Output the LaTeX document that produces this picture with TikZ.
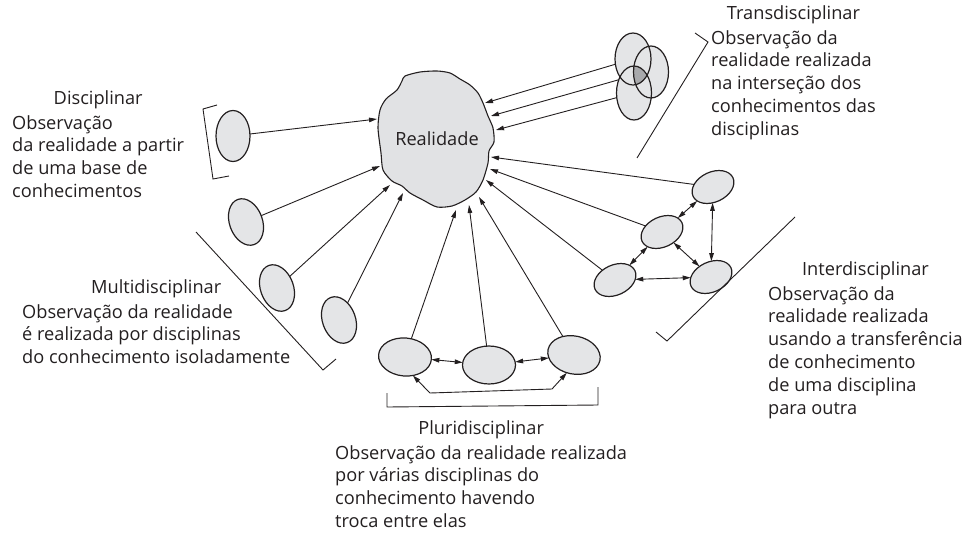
\documentclass[tikz,border=0pt]{standalone}
\usepackage{fontspec}
\setmainfont{Open Sans}
\usepackage{tikz}
\usetikzlibrary{shapes.geometric, arrows.meta}

\definecolor{ovalgray}{RGB}{228,229,231}
\definecolor{blobgray}{RGB}{225,226,228}
\definecolor{overlapgray}{RGB}{168,169,172}
\definecolor{ink}{RGB}{35,31,32}

\tikzset{
  oval/.style={ellipse, draw=ink, line width=1.2pt, fill=ovalgray, inner sep=0pt, outer sep=0pt},
  link/.style={draw=ink, line width=0.9pt},
  bracket/.style={draw=ink, line width=0.9pt},
  blurb/.style={align=left, inner sep=0pt, anchor=north west, text=ink, font=\fontsize{18.2}{22.8}\selectfont},
  heading/.style={inner sep=0pt, anchor=base, text=ink, font=\fontsize{18.2}{22.8}\selectfont},
}

\begin{document}
\begin{tikzpicture}[x=1pt, y=-1pt, >={Triangle[length=8pt,width=4.6pt]}]
    \useasboundingbox (0,0) rectangle (970,544);

    % Draw the reality blob
    \draw[ink, line width=1.1pt, fill=blobgray] plot[smooth cycle, tension=0.45] coordinates {
      (405,76) (420,72) (437,71) (450,73) (460,79) (470,85) (478,93) (483,103)
      (488,116) (493,128) (494,142) (489,151) (488,163) (483,180) (476,192)
      (465,200) (452,206) (437,207) (423,200) (410,193) (402,186) (392,181)
      (383,170) (381,153) (378,128) (380,110) (386,99) (397,90) (402,81)};
    \node[text=ink, font=\fontsize{18.2}{20}\selectfont] (real) at (437,139) {Realidade};

    % Where the arrows meet the blob
    \coordinate (rd) at (377,119);
    \coordinate (rm1) at (380,166);
    \coordinate (rm2) at (390,185);
    \coordinate (rm3) at (403,193);
    \coordinate (rp1) at (456,210);
    \coordinate (rp2) at (469,205);
    \coordinate (rp3) at (479,197);
    \coordinate (ri1) at (491,157);
    \coordinate (ri2) at (490,169);
    \coordinate (ri3) at (486,180);
    \coordinate (rt1) at (485,103);
    \coordinate (rt2) at (491,116);
    \coordinate (rt3) at (496,130);

    % Disciplinar
    \node[oval, minimum width=34pt, minimum height=51pt] (d1) at (233,136) {};
    \draw[link,->] (d1) -- (rd);
    \draw[bracket] (217,105) -- (203,109) -- (213,179) -- (229,176);
    \node[blurb] (dbody) at (12,115) {Observação\\da realidade a partir\\de uma base de\\conhecimentos};
    \node[heading] (dhead) at ([yshift=10.3pt]dbody.north) {Disciplinar};

    % Multidisciplinar
    \node[oval, minimum width=33pt, minimum height=48pt, rotate=20] (m1) at (246,222) {};
    \node[oval, minimum width=33pt, minimum height=48pt, rotate=20] (m2) at (277,288) {};
    \node[oval, minimum width=33pt, minimum height=48pt, rotate=20] (m3) at (339,320) {};
    \draw[link,->] (m1) -- (rm1);
    \draw[link,->] (m2) -- (rm2);
    \draw[link,->] (m3) -- (rm3);
    \draw[bracket] (196,232) -- (323,370) -- (336,359);
    \node[blurb] (mbody) at (22,304) {Observação da realidade\\é realizada por disciplinas\\do conhecimento isoladamente};
    \node[heading] (mhead) at ([yshift=10.3pt]mbody.north) {Multidisciplinar};

    % Pluridisciplinar
    \node[oval, minimum width=53pt, minimum height=38pt, rotate=-5] (p1) at (405,357) {};
    \node[oval, minimum width=53pt, minimum height=38pt] (p2) at (489,365) {};
    \node[oval, minimum width=53pt, minimum height=38pt, rotate=-12] (p3) at (574,355) {};
    \draw[link,->] (p1) -- (rp1);
    \draw[link,->] (p2) -- (rp2);
    \draw[link,->] (p3) -- (rp3);
    \draw[link,<->] (p1) -- (p2);
    \draw[link,<->] (p2) -- (p3);
    \coordinate (pb1) at (430,393);
    \coordinate (pb2) at (552,389);
    \draw[link,<->] (p1.-62) -- (pb1) -- (pb2) -- (p3.-100);
    \draw[bracket] (387,393) -- (387,407) -- (598,405) -- (598,387);
    \node[blurb] (pbody) at (335,445) {Observação da realidade realizada\\por várias disciplinas do\\conhecimento havendo\\troca entre elas};
    \node[heading] (phead) at ([yshift=10.3pt]pbody.north) {Pluridisciplinar};

    % Interdisciplinar
    \node[oval, minimum width=44pt, minimum height=30pt, rotate=25] (i1) at (713,187) {};
    \node[oval, minimum width=44pt, minimum height=30pt, rotate=25] (i2) at (662,232) {};
    \node[oval, minimum width=44pt, minimum height=30pt, rotate=25] (i3) at (615,280) {};
    \node[oval, minimum width=44pt, minimum height=30pt, rotate=25] (i4) at (711,277) {};
    \draw[link,->] (i1) -- (ri1);
    \draw[link,->] (i2) -- (ri2);
    \draw[link,->] (i3) -- (ri3);
    \draw[link,<->] (i2) -- (i1);
    \draw[link,<->] (i2) -- (i3);
    \draw[link,<->] (i2) -- (i4);
    \draw[link,<->] (i3) -- (i4);
    \draw[link,<->] (i1) -- (i4);
    \draw[bracket] (795,217) -- (667,341) -- (656,332);
    \node[blurb] (ibody) at (768,286) {Observação da\\realidade realizada\\usando a transferência\\de conhecimento\\de uma disciplina\\para outra};
    \node[heading] (ihead) at ([yshift=10.3pt]ibody.north) {Interdisciplinar};

    % Transdisciplinar: three overlapping ovals
    \fill[ovalgray] (633,59) ellipse [x radius=18, y radius=26];
    \fill[ovalgray] (651,72) ellipse [x radius=17.5, y radius=26];
    \fill[ovalgray] (634,93) ellipse [x radius=17.5, y radius=27];
    \begin{scope}
      \clip (633,59) ellipse [x radius=18, y radius=26];
      \clip (651,72) ellipse [x radius=17.5, y radius=26];
      \fill[overlapgray] (634,93) ellipse [x radius=17.5, y radius=27];
    \end{scope}
    \node[oval, fill=none, minimum width=36pt, minimum height=52pt] (t1) at (633,59) {};
    \node[oval, fill=none, minimum width=35pt, minimum height=52pt] (t2) at (651,72) {};
    \node[oval, fill=none, minimum width=35pt, minimum height=54pt] (t3) at (634,93) {};
    \draw[link,->] (t1) -- (rt1);
    \draw[link,->] (t3.139) -- (rt2);
    \draw[link,->] (t3) -- (rt3);
    \draw[bracket] (695,33) -- (708,42) -- (637,158);
    \node[blurb] (tbody) at (711,30) {Observação da\\realidade realizada\\na interseção dos\\conhecimentos das\\disciplinas};
    \node[heading] (thead) at ([yshift=10.3pt]tbody.north) {Transdisciplinar};
\end{tikzpicture}
\end{document}
